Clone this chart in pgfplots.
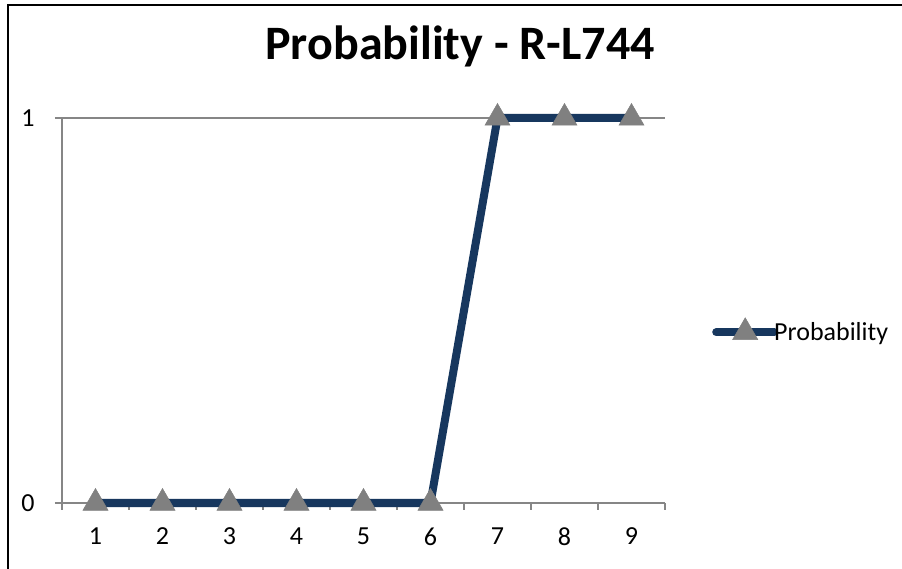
\documentclass[border=0pt]{standalone}
\usepackage{pgfplots}
\pgfplotsset{compat=1.18}
\usepackage{fontspec}
\setmainfont{Carlito}
\definecolor{navy}{RGB}{23,55,94}
\definecolor{axgray}{RGB}{134,134,134}
\definecolor{mkgray}{RGB}{128,128,128}
\begin{document}
\begin{tikzpicture}
\useasboundingbox (0,0) rectangle (902bp,569bp);
\fill[white] (0,0) rectangle (902bp,569bp);
\draw[line width=1.8bp,black] (8bp,0bp) -- (8bp,564bp) -- (902bp,564bp);
\node[anchor=base,font=\fontsize{48bp}{56bp}\selectfont\bfseries] at (460bp,509bp) {Probability - R-L744};
\begin{axis}[
  at={(62bp,66bp)}, anchor=south west,
  scale only axis, width=603bp, height=385bp,
  xmin=0.5, xmax=9.5, ymin=0, ymax=1,
  axis x line*=bottom, axis y line*=left,
  axis line style={draw=axgray, line width=1.3bp, -},
  clip=false,
  xtick={1,...,9},
  minor xtick={0.5,1.5,...,9.5},
  ytick={0,1},
  major x tick style={draw=none},
  minor tick style={draw=axgray, line width=1.3bp},
  major y tick style={draw=axgray, line width=1.3bp},
  tick align=outside,
  major tick length=7bp, minor tick length=7bp,
  ymajorgrids, grid style={draw=axgray, line width=1.3bp},
  /pgf/number format/assume math mode=true,
  tick label style={font=\fontsize{26bp}{30bp}\selectfont, text=black},
  yticklabel style={xshift=-17bp},
  xticklabel style={yshift=-14bp},
  legend style={at={(rel axis cs:1.078,0.447)}, anchor=west, draw=none, fill=none,
    font=\fontsize{26bp}{30bp}\selectfont, inner sep=0pt,
    /tikz/every odd column/.append style={column sep=-6bp}},
  legend cell align=left,
  legend image code/.code={\draw[mark repeat=2,mark phase=2,#1] plot coordinates {(0bp,0bp) (29bp,0bp) (58bp,0bp)};},
]
\addplot[navy, line width=8bp, line cap=round, mark=triangle*, mark size=14.5bp,
  mark options={fill=mkgray, draw=mkgray, line width=0.5bp}]
  coordinates {(1,0) (2,0) (3,0) (4,0) (5,0) (6,0) (7,1) (8,1) (9,1)};
\addlegendentry{Probability}
\end{axis}
\end{tikzpicture}
\end{document}
